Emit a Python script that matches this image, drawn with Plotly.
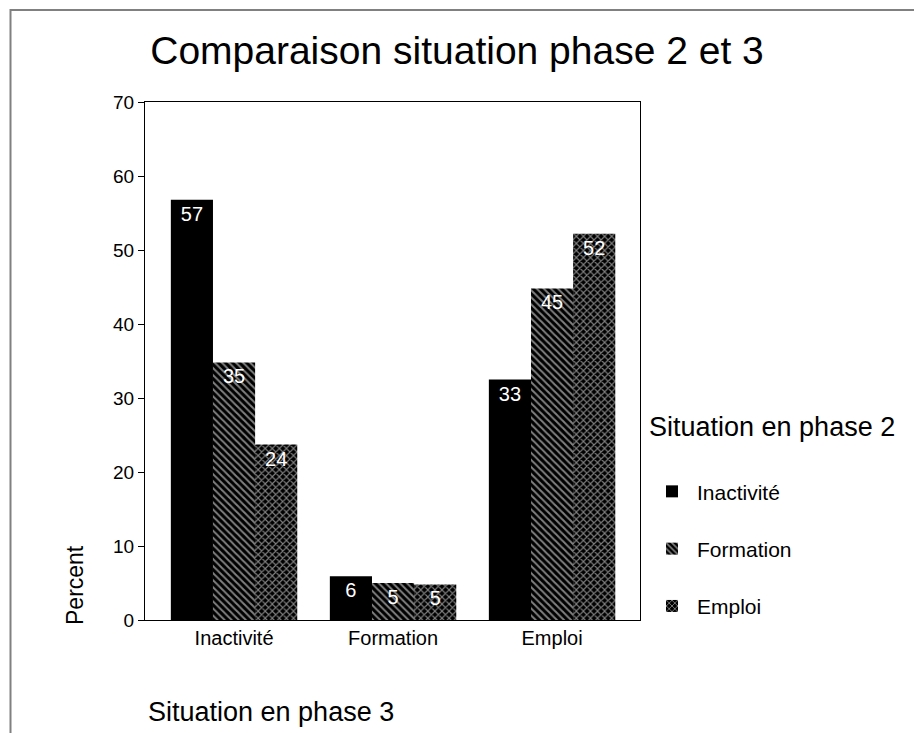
import plotly.graph_objects as go

categories = ["Inactivité", "Formation", "Emploi"]
series_names = ["Inactivité", "Formation", "Emploi"]
inactivite = [56.8, 5.9, 32.5]
formation = [34.8, 5.0, 44.8]
emploi = [23.7, 4.8, 52.2]
labels_inactivite = ["57", "6", "33"]
labels_formation = ["35", "5", "45"]
labels_emploi = ["24", "5", "52"]
y_ticks = [0, 10, 20, 30, 40, 50, 60, 70]

FONT = "Liberation Sans, Arial, sans-serif"

styles = ["", "\\", "x"]
values = [inactivite, formation, emploi]
texts = [labels_inactivite, labels_formation, labels_emploi]

fig = go.Figure()
for i, name in enumerate(series_names):
    marker = dict(color="black", line=dict(width=0))
    if styles[i]:
        marker["pattern"] = dict(shape=styles[i], bgcolor="black", fgcolor="white",
                                 size=5, solidity=0.4, fillmode="overlay")
    fig.add_trace(go.Bar(
        x=categories, y=values[i], name=name, text=texts[i],
        textposition="inside", insidetextanchor="end",
        textfont=dict(color="white", size=20, family=FONT),
        marker=marker, legendgroup=name, cliponaxis=False,
    ))

W, H = 914, 733
L, R, T, B = 145, 274, 102, 113
pw, ph = W - L - R, H - T - B

def px(x):
    return (x - L) / pw

def py(y):
    return (H - B - y) / ph

fig.update_layout(
    width=W, height=H,
    margin=dict(l=L, r=R, t=T, b=B),
    paper_bgcolor="white", plot_bgcolor="white",
    font=dict(family=FONT, color="black"),
    barmode="group", bargap=0.205, bargroupgap=0,
    title=dict(text="Comparaison situation phase 2 et 3", x=0.5, xanchor="center",
               y=1 - 50 / H, yanchor="middle", font=dict(size=39, family=FONT)),
    uniformtext=dict(mode="show", minsize=10),
    legend=dict(
        title=dict(text="Situation en phase 2<br> ", font=dict(size=27, family=FONT)),
        font=dict(size=21, family=FONT),
        x=px(647), xanchor="left", y=py(401), yanchor="top",
        tracegroupgap=27, bgcolor="rgba(0,0,0,0)",
        itemwidth=40,
    ),
    xaxis=dict(
        range=[-0.56, 2.553], showline=True, linecolor="black", linewidth=1,
        mirror=True, ticks="", tickfont=dict(size=20), showgrid=False,
    ),
    yaxis=dict(
        range=[0, 70], tickvals=y_ticks, showline=True, linecolor="black", linewidth=1,
        mirror=True, ticks="outside", ticklen=6, tickcolor="black",
        tickfont=dict(size=19), showgrid=False, zeroline=False,
    ),
    annotations=[
        dict(text="Percent", textangle=-90, x=px(75), y=py(585), xref="paper", yref="paper",
             showarrow=False, font=dict(size=23), xanchor="center", yanchor="middle"),
        dict(text="Situation en phase 3", x=px(146), y=py(712), xref="paper", yref="paper",
             showarrow=False, font=dict(size=27), xanchor="left", yanchor="middle"),
    ],
    shapes=[
        dict(type="rect", xref="paper", yref="paper", x0=px(10.5), x1=px(940), y0=py(760), y1=py(10),
             line=dict(color="#808080", width=2), fillcolor="rgba(0,0,0,0)", layer="below"),
    ],
)

fig.write_html("out.html", config={"displayModeBar": False},
               post_script="document.body.style.margin='0px';document.body.style.overflow='hidden';")
